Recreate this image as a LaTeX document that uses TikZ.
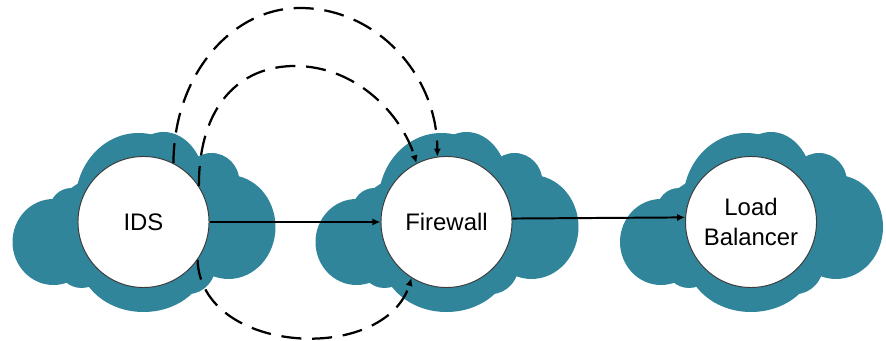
\documentclass[tikz,border=0pt]{standalone}
\usepackage{fontspec}
\setmainfont{Liberation Sans}
\usetikzlibrary{arrows.meta}
\definecolor{cloudc}{RGB}{49,133,155}
\definecolor{ringc}{RGB}{60,60,60}
\newcommand\drawcloud[1]{%
  \begin{scope}[shift={#1}]
    \fill[cloudc] (-5,20) ellipse [x radius=63, y radius=69];
    \fill[cloudc] (20,35) ellipse [x radius=42, y radius=55];
    \fill[cloudc] (68,40) ellipse [x radius=28, y radius=29];
    \fill[cloudc] (85,-5) ellipse [x radius=47, y radius=52];
    \fill[cloudc] (45,-40) ellipse [x radius=28, y radius=32];
    \fill[cloudc] (0,-35) ellipse [x radius=65, y radius=55];
    \fill[cloudc] (-62,-42) ellipse [x radius=24, y radius=24];
    \fill[cloudc] (-90,-20) ellipse [x radius=41, y radius=43];
    \fill[cloudc] (-72,12) ellipse [x radius=22, y radius=22];
    \fill[cloudc] (0,-5) ellipse [x radius=95, y radius=60];
  \end{scope}}
\tikzset{
  circ/.style={circle, draw=ringc, line width=0.7pt, fill=white, minimum size=3.275cm, inner sep=0pt, align=center, font=\fontsize{17}{21}\selectfont},
  solidarrow/.style={line width=1.4pt, -{Latex[length=0.2cm,width=0.18cm]}},
  dasharrow/.style={line width=1.6pt, dash pattern=on 0.5cm off 0.27cm, -{Latex[length=0.2cm,width=0.18cm]}}
}
\begin{document}
\begin{tikzpicture}[x=0.025cm,y=0.025cm]
\useasboundingbox (0,0) rectangle (886,341);
\fill[white] (0,0) rectangle (886,341);
\drawcloud{(143.5,119)}
\drawcloud{(446.5,119)}
\drawcloud{(751,119)}
\node[circ] (ids) at (143.5,119) {IDS};
\node[circ] (fw) at (446.5,119) {Firewall};
\node[circ] (lb) at (751,119) {Load\\Balancer};
\coordinate (otop) at (300,333);
\coordinate (itop) at (295,275);
\draw[solidarrow] (ids.east) -- (fw.west);
\draw[solidarrow] (fw.3.5) -- (lb.176.5);
\draw[dasharrow] (ids.63) .. controls +(0,86) and +(-70,0) .. (otop)
   .. controls +(76,0) and +(0,82) .. (fw.98);
\draw[dasharrow] (ids.33) .. controls +(0,81) and +(-55,0) .. (itop)
   .. controls +(61,0) and +(-15,49) .. (fw.117);
\draw[dasharrow] (ids.325) .. controls +(3,-95) and +(-27,-87) .. (fw.238);
\end{tikzpicture}
\end{document}
